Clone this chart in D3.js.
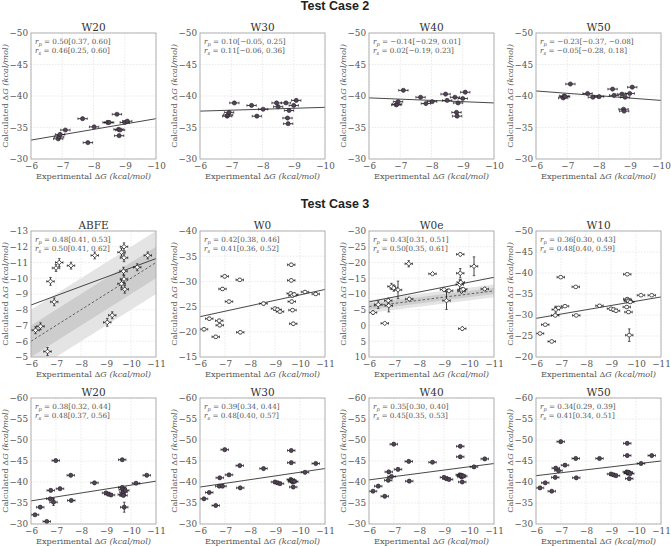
<!DOCTYPE html>
<html><head><meta charset="utf-8">
<script src="https://cdn.jsdelivr.net/npm/d3@7"></script>
<style>body{margin:0;background:#fff}svg{display:block}</style>
</head><body><svg id="c" width="671" height="546"></svg>
<script>
// ---------------- DATA ----------------
const sectionTitles = ["Test Case 2", "Test Case 3"];
const panelTitles = ["W20","W30","W40","W50","ABFE","W0","W0e","W10","W20","W30","W40","W50"];

// Test case 2 (15 ligands)
const case2Exp = [-6.87,-6.9,-6.93,-7.1,-7.65,-7.82,-8.02,-8.45,-8.5,-8.75,-8.8,-8.82,-8.85,-9.0,-9.08];
const case2W20 = [-33.2,-33.5,-33.9,-34.6,-36.4,-32.6,-35.1,-35.8,-35.8,-37.1,-34.7,-33.7,-34.6,-35.8,-36.0];
const case2W30 = [-36.8,-37.0,-37.4,-38.9,-38.5,-36.8,-37.9,-38.9,-38.3,-38.9,-36.5,-35.6,-37.7,-38.5,-39.3];
const case2W40 = [-38.6,-38.7,-39.1,-40.9,-39.8,-38.8,-39.1,-40.3,-39.3,-39.8,-37.4,-36.8,-38.9,-39.6,-40.6];
const case2W50 = [-39.7,-40.0,-39.9,-41.9,-40.4,-39.8,-39.9,-41.1,-40.1,-40.3,-37.9,-37.6,-39.8,-40.4,-41.4];

// Test case 3 (24 ligands)
const case3Exp = [-6.16,-6.37,-6.63,-6.77,-6.79,-6.9,-6.99,-7.16,-7.59,-7.61,-8.54,-9.0,-9.1,-9.2,-9.63,-9.65,-9.65,-9.67,-9.7,-9.7,-9.73,-9.77,-10.2,-10.63];
const case3W0  = [-20.5,-22.6,-19.0,-22.2,-21.3,-28.5,-31.0,-26.0,-30.3,-19.9,-25.6,-24.6,-24.4,-24.0,-27.6,-33.3,-30.2,-26.0,-27.2,-24.3,-21.6,-27.4,-27.9,-27.5];
const case3W0e = [-4.1,-6.6,-0.7,-7.9,-6.3,-12.4,-11.9,-11.3,-19.6,-8.4,-16.4,-11.4,-7.9,-11.0,-13.0,-22.6,-16.6,-13.7,-10.9,-11.3,1.0,-11.5,-18.8,-11.6];
const case3W0eErr = [0.6,1.2,0.3,0.8,2.0,1.0,1.0,2.8,1.0,0.5,0.4,0.5,2.8,0.5,1.5,0.5,1.5,0.8,0.5,0.5,0.5,0.5,3.0,0.5];
const case3W10 = [-25.6,-27.7,-23.7,-29.9,-31.3,-31.7,-39.0,-32.1,-36.7,-29.9,-32.2,-31.5,-31.3,-31.0,-31.9,-39.7,-33.8,-33.5,-33.3,-30.7,-25.2,-33.1,-34.7,-34.7];
const case3W10Err = [0.3,0.3,0.3,0.3,0.8,0.3,0.3,0.3,0.3,0.3,0.3,0.3,0.3,0.3,0.3,0.3,0.3,0.3,0.3,0.3,1.5,0.3,0.3,0.3];
const case3W20 = [-32.2,-34.0,-30.6,-36.0,-38.0,-35.2,-45.1,-38.4,-41.6,-35.6,-39.8,-37.4,-37.1,-36.9,-37.0,-45.3,-38.7,-38.2,-37.6,-36.8,-34.0,-38.0,-39.7,-41.6];
const case3W20Err = [0.3,0.3,0.3,0.3,0.3,0.8,0.3,0.3,0.3,0.3,0.3,0.3,0.3,0.3,0.3,0.3,0.3,0.3,0.3,0.3,1.2,0.3,0.3,0.3];
const case3W30 = [-36.0,-37.5,-34.4,-39.0,-41.0,-39.0,-47.7,-41.7,-43.9,-38.6,-43.2,-40.0,-39.8,-39.6,-40.6,-47.5,-44.6,-40.3,-40.0,-40.3,-38.8,-40.1,-42.3,-44.4];
const case3W40 = [-37.8,-39.0,-36.6,-40.4,-42.4,-41.3,-49.0,-43.0,-44.9,-40.2,-44.7,-41.1,-40.8,-40.6,-41.7,-48.5,-46.0,-41.5,-41.2,-41.6,-40.0,-41.4,-43.6,-45.5];
const case3W50 = [-38.6,-39.8,-37.8,-41.1,-43.3,-42.7,-49.6,-44.0,-45.6,-41.0,-45.6,-41.9,-41.7,-41.5,-42.4,-49.2,-46.3,-42.1,-42.2,-42.3,-40.8,-42.0,-44.4,-46.3];

// ABFE panel
const abfeExp  = [-6.18,-6.38,-6.66,-6.78,-6.93,-7.0,-7.13,-7.6,-8.55,-9.05,-9.25,-9.62,-9.72,-9.72,-9.7,-9.62,-9.72,-9.75,-10.25,-10.67];
const abfeCalc = [-6.7,-6.95,-5.35,-9.8,-8.5,-10.65,-11.0,-10.8,-11.45,-7.2,-7.65,-11.65,-12.0,-11.3,-10.45,-9.65,-9.95,-9.3,-10.7,-11.45];
const abfeErr  = [0.22,0.22,0.25,0.25,0.25,0.22,0.25,0.22,0.22,0.25,0.22,0.25,0.25,0.25,0.25,0.25,0.25,0.25,0.22,0.22];

const expErr = 0.15;

// axis domains / ticks
const xTicks2 = [-6,-7,-8,-9,-10];
const xTicks3 = [-6,-7,-8,-9,-10,-11];
const yDomains = [[-50,-30],[-50,-30],[-50,-30],[-50,-30],[-13,-5],[-40,-15],[-30,10],[-50,-20],[-60,-30],[-60,-30],[-60,-30],[-60,-30]];
const yTickSteps = [5,5,5,5,1,5,5,5,5,5,5,5];

// regression line: calculated value at left and right ends of x axis
const fitEnds = [[-33.0,-36.4],[-37.6,-38.2],[-39.7,-38.9],[-40.8,-39.3],[-8.3,-11.25],[-23.0,-28.4],[-7.5,-15.3],[-29.2,-34.3],[-35.5,-40.2],[-38.8,-43.2],[-40.5,-44.4],[-41.5,-45.0]];

const statRp = ["0.50[0.37, 0.60]","0.10[−0.05, 0.25]","−0.14[−0.29, 0.01]","−0.23[−0.37, −0.08]","0.48[0.41, 0.53]","0.42[0.38, 0.46]","0.43[0.31, 0.51]","0.36[0.30, 0.43]","0.38[0.32, 0.44]","0.39[0.34, 0.44]","0.35[0.30, 0.40]","0.34[0.29, 0.39]"];
const statRs = ["0.46[0.25, 0.60]","0.11[−0.06, 0.36]","0.02[−0.19, 0.23]","−0.05[−0.28, 0.18]","0.50[0.41, 0.62]","0.41[0.36, 0.52]","0.50[0.35, 0.61]","0.48[0.40, 0.59]","0.48[0.37, 0.56]","0.48[0.40, 0.57]","0.45[0.35, 0.53]","0.41[0.34, 0.51]"];

// ---------------- BUILD ----------------
const c3err = (v) => case3Exp.map(() => v);
const panels = [
  {x: case2Exp, y: case2W20, ye: null, mk: "fill"},
  {x: case2Exp, y: case2W30, ye: null, mk: "fill"},
  {x: case2Exp, y: case2W40, ye: null, mk: "fill"},
  {x: case2Exp, y: case2W50, ye: null, mk: "fill"},
  {x: abfeExp, y: abfeCalc, ye: abfeErr, mk: "diamond", band: true},
  {x: case3Exp, y: case3W0, ye: c3err(0.3), mk: "open"},
  {x: case3Exp, y: case3W0e, ye: case3W0eErr, mk: "diamond", band: true},
  {x: case3Exp, y: case3W10, ye: case3W10Err, mk: "open"},
  {x: case3Exp, y: case3W20, ye: case3W20Err, mk: "fill"},
  {x: case3Exp, y: case3W30, ye: c3err(0.3), mk: "fill"},
  {x: case3Exp, y: case3W40, ye: c3err(0.3), mk: "fill"},
  {x: case3Exp, y: case3W50, ye: c3err(0.3), mk: "fill"}
];

const svg = d3.select("#c");
const PW = 125, PH = 126;
const lefts = [31, 200, 369, 536];
const tops = [33, 231, 398];
const serif = "'DejaVu Serif', serif";
const txt = "#555";

[[sectionTitles[0], 10], [sectionTitles[1], 208]].forEach(([s, yy]) => {
  svg.append("text").attr("x", 335).attr("y", yy).attr("text-anchor","middle")
    .attr("font-family","'Liberation Sans', Arial, sans-serif").attr("font-weight","bold")
    .attr("font-size",12.5).attr("fill","#222").text(s);
});

const fmt = d => (d < 0 ? "−" : "") + Math.abs(d);

panels.forEach((p, i) => {
  const row = Math.floor(i / 4), col = i % 4;
  const L = lefts[col], T = tops[row];
  const xDom = row === 0 ? [-6, -10] : [-6, -11];
  const xt = row === 0 ? xTicks2 : xTicks3;
  const x = d3.scaleLinear().domain(xDom).range([L, L + PW]);
  const yd = yDomains[i];
  const y = d3.scaleLinear().domain([yd[1], yd[0]]).range([T + PH, T]);
  const yt = d3.range(yd[0], yd[1] + 0.001, yTickSteps[i]);
  const g = svg.append("g");
  const cid = "clip" + i;
  svg.append("clipPath").attr("id", cid).append("rect").attr("x", L).attr("y", T).attr("width", PW).attr("height", PH);

  // grid
  g.selectAll(".gx").data(xt).enter().append("line")
    .attr("x1", d => x(d)).attr("x2", d => x(d)).attr("y1", T).attr("y2", T + PH)
    .attr("stroke", "#dcdcdc").attr("stroke-width", 0.6).attr("stroke-dasharray","1.5,1.5");
  g.selectAll(".gy").data(yt).enter().append("line")
    .attr("y1", d => y(d)).attr("y2", d => y(d)).attr("x1", L).attr("x2", L + PW)
    .attr("stroke", "#dcdcdc").attr("stroke-width", 0.6).attr("stroke-dasharray","1.5,1.5");

  const inner = g.append("g").attr("clip-path", `url(#${cid})`);
  if (p.band) {
    const xs = xDom;
    const area = (w) => d3.area().x(d => x(d)).y0(d => y(d - w)).y1(d => y(d + w));
    inner.append("path").datum(xs).attr("d", area(2)).attr("fill", "#e4e4e4");
    inner.append("path").datum(xs).attr("d", area(1)).attr("fill", "#cdcdcd");
    inner.append("path").datum(xs).attr("d", d3.line().x(d => x(d)).y(d => y(d)))
      .attr("stroke", "#444").attr("stroke-width", 0.8).attr("stroke-dasharray", "2.5,2").attr("fill","none");
  }
  // regression line
  inner.append("line").attr("x1", x(xDom[0])).attr("x2", x(xDom[1]))
    .attr("y1", y(fitEnds[i][0])).attr("y2", y(fitEnds[i][1]))
    .attr("stroke", "#333").attr("stroke-width", 0.9);

  // points
  const pts = p.x.map((xv, k) => ({x: xv, y: p.y[k], ye: p.ye ? p.ye[k] : 0}));
  const pg = inner.append("g");
  pts.forEach(d => {
    const cx = x(d.x), cy = y(d.y);
    const x0 = x(d.x + expErr), x1 = x(d.x - expErr);
    pg.append("line").attr("x1", x0).attr("x2", x1).attr("y1", cy).attr("y2", cy).attr("stroke","#111").attr("stroke-width",0.8);
    pg.append("line").attr("x1", x0).attr("x2", x0).attr("y1", cy-1.3).attr("y2", cy+1.3).attr("stroke","#111").attr("stroke-width",0.6);
    pg.append("line").attr("x1", x1).attr("x2", x1).attr("y1", cy-1.3).attr("y2", cy+1.3).attr("stroke","#111").attr("stroke-width",0.6);
    if (d.ye) {
      const y0 = y(d.y - d.ye), y1 = y(d.y + d.ye);
      pg.append("line").attr("x1", cx).attr("x2", cx).attr("y1", y0).attr("y2", y1).attr("stroke","#111").attr("stroke-width",0.8);
      pg.append("line").attr("x1", cx-1.3).attr("x2", cx+1.3).attr("y1", y0).attr("y2", y0).attr("stroke","#111").attr("stroke-width",0.6);
      pg.append("line").attr("x1", cx-1.3).attr("x2", cx+1.3).attr("y1", y1).attr("y2", y1).attr("stroke","#111").attr("stroke-width",0.6);
    }
  });
  pts.forEach(d => {
    const cx = x(d.x), cy = y(d.y);
    if (p.mk === "fill") {
      pg.append("circle").attr("cx", cx).attr("cy", cy).attr("r", 2.1).attr("fill", "#55425a").attr("stroke","#222").attr("stroke-width",0.6);
    } else if (p.mk === "open") {
      pg.append("ellipse").attr("cx", cx).attr("cy", cy).attr("rx", 2.1).attr("ry", 1.8).attr("fill", "#fff").attr("stroke","#222").attr("stroke-width",0.7);
    } else {
      pg.append("path").attr("d", d3.symbol(d3.symbolDiamond2, 14)()).attr("transform", `translate(${cx},${cy})`)
        .attr("fill", "#fff").attr("stroke","#222").attr("stroke-width",0.8);
    }
  });

  // frame
  g.append("rect").attr("x", L).attr("y", T).attr("width", PW).attr("height", PH)
    .attr("fill","none").attr("stroke","#aaa").attr("stroke-width",0.9);

  // axes (tick labels via d3 axes)
  const xa = d3.axisBottom(x).tickValues(xt).tickSize(0).tickPadding(4).tickFormat(fmt);
  const ya = d3.axisLeft(y).tickValues(yt).tickSize(0).tickPadding(3).tickFormat(fmt);
  const gx = svg.append("g").attr("transform", `translate(0,${T + PH})`).call(xa);
  const gy = svg.append("g").attr("transform", `translate(${L},0)`).call(ya);
  [gx, gy].forEach(a => {
    a.select(".domain").remove();
    a.selectAll("text").attr("font-family", serif).attr("font-size", 8.8).attr("fill", txt);
  });

  // title
  svg.append("text").attr("x", L + PW / 2).attr("y", T - 2.5).attr("text-anchor","middle")
    .attr("font-family", serif).attr("font-size", 10.5).attr("fill", "#333").text(panelTitles[i]);

  // x label
  const xl = svg.append("text").attr("x", L + PW / 2).attr("y", T + PH + 20).attr("text-anchor","middle")
    .attr("font-family", serif).attr("font-size", 8.2).attr("fill", txt);
  xl.append("tspan").text("Experimental Δ");
  xl.append("tspan").attr("font-style","italic").text("G");
  xl.append("tspan").text(" ");
  xl.append("tspan").attr("font-style","italic").text("(kcal/mol)");

  // y label
  const ylx = L - 23, yly = T + PH / 2;
  const yl = svg.append("text").attr("transform", `translate(${ylx},${yly}) rotate(-90)`).attr("text-anchor","middle")
    .attr("font-family", serif).attr("font-size", 8.2).attr("fill", txt);
  yl.append("tspan").text("Calculated Δ");
  yl.append("tspan").attr("font-style","italic").text("G");
  yl.append("tspan").text(" ");
  yl.append("tspan").attr("font-style","italic").text("(kcal/mol)");

  // stats
  [[ "p", statRp[i]], ["s", statRs[i]]].forEach((s, k) => {
    const t = svg.append("text").attr("x", L + 4).attr("y", T + 11 + k * 9)
      .attr("font-family", serif).attr("font-size", 7.2).attr("fill", txt);
    t.append("tspan").attr("font-style","italic").text("r");
    t.append("tspan").attr("font-style","italic").attr("font-size", 5.2).attr("dy", 1.5).text(s[0]);
    t.append("tspan").attr("dy", -1.5).text(" = " + s[1]);
  });
});
</script></body></html>
